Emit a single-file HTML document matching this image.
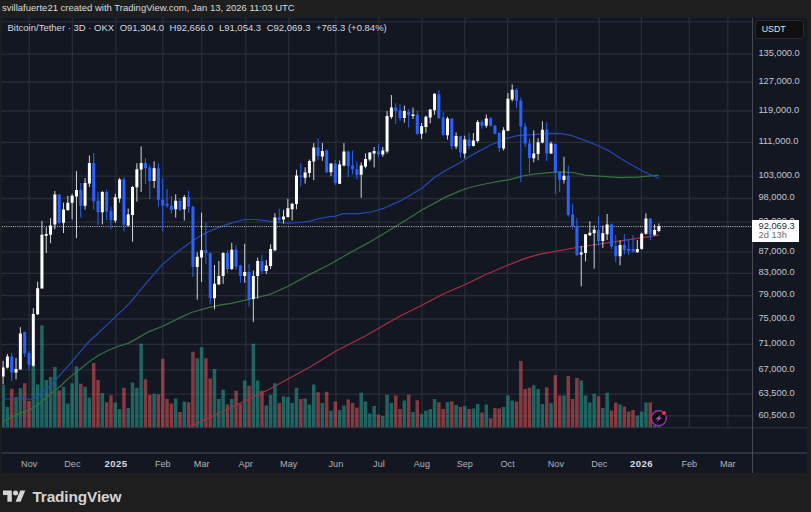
<!DOCTYPE html>
<html lang="en"><head><meta charset="utf-8"><title>Bitcoin/Tether 3D OKX — TradingView</title>
<style>
*{margin:0;padding:0;box-sizing:border-box}
html,body{width:811px;height:512px;overflow:hidden;background:#1e1e1e}
body{position:relative;font-family:"Liberation Sans",Arial,sans-serif;color:#d1d4dc;-webkit-font-smoothing:antialiased}
.t{position:absolute;white-space:nowrap;line-height:1}
.hdr{left:2px;top:3px;font-size:9.5px;color:#dcdcdc}
.ch{position:absolute;left:2px;top:16.5px}
.leg{left:7.5px;top:23.4px;font-size:9.5px;color:#d6d8de}
.leg span{margin-left:5.5px}
.pl{left:758.4px;font-size:9.3px;color:#c4c6cd}
.tl{font-size:9.1px;color:#b0b3bb;top:459.6px;transform:translateX(-50%)}
.tl.b{font-weight:bold;color:#d9dbe0;font-size:9.6px;letter-spacing:0.4px;top:459.2px;margin-left:0.2px}
.usdt{left:755px;top:19.8px;width:49.2px;height:19px;border-radius:3px;background:#0f0f0f;border:1px solid #272a34;font-size:8.8px;color:#e0e1e5;padding:4.6px 0 0 5.7px}
.pb{left:751.8px;top:220.4px;width:47.1px;height:21.7px;background:#fff;color:#2a2e39;font-size:9.3px;padding:1.3px 0 0 6.7px;line-height:9.4px}
.pb i{font-style:normal;color:#6a6d78;display:block}
.logo{position:absolute;left:3px;top:487.8px}
.brand{left:32.4px;top:488.6px;font-size:15.4px;font-weight:bold;color:#d4d4d4;letter-spacing:-0.13px}
</style></head><body>
<div class="t hdr">svillafuerte21 created with TradingView.com, Jan 13, 2026 11:03 UTC</div>

<svg class="ch" width="805.4" height="456.7" viewBox="2 16.5 805.4 456.7">
<rect x="2" y="16.5" width="805.4" height="456.7" fill="#131722"/>
<path d="M2 21.4H752M2 53.6H752M2 81.5H752M2 110.5H752M2 141.9H752M2 175.6H752M2 198.0H752M2 221.6H752M2 251.7H752M2 272.9H752M2 295.1H752M2 318.5H752M2 343.8H752M2 369.4H752M2 393.6H752M2 415.4H752M29.2 16.5V426.7M72.4 16.5V426.7M115.8 16.5V426.7M162.8 16.5V426.7M201.7 16.5V426.7M245.7 16.5V426.7M288.7 16.5V426.7M335.9 16.5V426.7M378.9 16.5V426.7M421.9 16.5V426.7M464.8 16.5V426.7M507.6 16.5V426.7M555.9 16.5V426.7M599.3 16.5V426.7M641.4 16.5V426.7M689.3 16.5V426.7M727.8 16.5V426.7" stroke="#292c3a" stroke-width="1.3" fill="none"/>
<path d="M2 427.2H807.4" stroke="#292c3a" stroke-width="1.3" fill="none"/>
<path d="M1.35 426.7v-42.4h3.5v42.4zM5.66 426.7v-20.3h3.5v20.3zM14.29 426.7v-30.2h3.5v30.2zM18.61 426.7v-38.9h3.5v38.9zM31.55 426.7v-61.1h3.5v61.1zM35.87 426.7v-42.8h3.5v42.8zM40.18 426.7v-102.0h3.5v102.0zM44.49 426.7v-47.3h3.5v47.3zM48.81 426.7v-50.3h3.5v50.3zM53.12 426.7v-60.2h3.5v60.2zM61.75 426.7v-40.4h3.5v40.4zM66.07 426.7v-23.7h3.5v23.7zM70.38 426.7v-44.0h3.5v44.0zM74.70 426.7v-60.6h3.5v60.6zM83.33 426.7v-40.4h3.5v40.4zM87.64 426.7v-29.6h3.5v29.6zM100.58 426.7v-34.1h3.5v34.1zM113.53 426.7v-24.7h3.5v24.7zM117.84 426.7v-18.3h3.5v18.3zM126.47 426.7v-19.1h3.5v19.1zM130.78 426.7v-44.8h3.5v44.8zM135.10 426.7v-39.4h3.5v39.4zM139.41 426.7v-83.4h3.5v83.4zM152.36 426.7v-33.5h3.5v33.5zM173.93 426.7v-28.6h3.5v28.6zM182.56 426.7v-25.6h3.5v25.6zM195.50 426.7v-69.0h3.5v69.0zM199.82 426.7v-79.9h3.5v79.9zM212.76 426.7v-58.2h3.5v58.2zM217.07 426.7v-28.2h3.5v28.2zM221.39 426.7v-37.5h3.5v37.5zM230.02 426.7v-28.2h3.5v28.2zM242.96 426.7v-46.7h3.5v46.7zM251.59 426.7v-83.4h3.5v83.4zM255.91 426.7v-46.7h3.5v46.7zM264.53 426.7v-21.7h3.5v21.7zM268.85 426.7v-32.1h3.5v32.1zM273.16 426.7v-44.0h3.5v44.0zM281.79 426.7v-31.0h3.5v31.0zM286.11 426.7v-30.2h3.5v30.2zM290.42 426.7v-24.3h3.5v24.3zM294.74 426.7v-39.4h3.5v39.4zM303.37 426.7v-28.6h3.5v28.6zM307.68 426.7v-22.7h3.5v22.7zM311.99 426.7v-42.8h3.5v42.8zM320.62 426.7v-24.3h3.5v24.3zM329.25 426.7v-16.4h3.5v16.4zM337.88 426.7v-17.2h3.5v17.2zM342.20 426.7v-21.7h3.5v21.7zM359.45 426.7v-34.5h3.5v34.5zM363.77 426.7v-25.6h3.5v25.6zM368.08 426.7v-13.8h3.5v13.8zM372.40 426.7v-21.1h3.5v21.1zM381.03 426.7v-11.2h3.5v11.2zM385.34 426.7v-32.5h3.5v32.5zM389.66 426.7v-24.3h3.5v24.3zM402.60 426.7v-26.6h3.5v26.6zM411.23 426.7v-15.2h3.5v15.2zM419.86 426.7v-13.2h3.5v13.2zM424.17 426.7v-16.4h3.5v16.4zM428.49 426.7v-18.3h3.5v18.3zM432.80 426.7v-28.2h3.5v28.2zM445.74 426.7v-25.0h3.5v25.0zM454.37 426.7v-22.3h3.5v22.3zM463.00 426.7v-21.1h3.5v21.1zM471.63 426.7v-18.7h3.5v18.7zM475.94 426.7v-23.1h3.5v23.1zM484.57 426.7v-22.7h3.5v22.7zM501.83 426.7v-20.3h3.5v20.3zM506.15 426.7v-31.6h3.5v31.6zM510.46 426.7v-26.6h3.5v26.6zM532.03 426.7v-42.0h3.5v42.0zM536.35 426.7v-38.1h3.5v38.1zM540.66 426.7v-23.1h3.5v23.1zM549.29 426.7v-24.3h3.5v24.3zM562.24 426.7v-31.6h3.5v31.6zM579.49 426.7v-46.7h3.5v46.7zM583.81 426.7v-31.6h3.5v31.6zM588.12 426.7v-24.7h3.5v24.7zM592.44 426.7v-33.5h3.5v33.5zM601.07 426.7v-19.1h3.5v19.1zM605.38 426.7v-34.5h3.5v34.5zM618.32 426.7v-22.7h3.5v22.7zM635.58 426.7v-11.8h3.5v11.8zM639.90 426.7v-15.8h3.5v15.8zM644.21 426.7v-24.7h3.5v24.7zM652.84 426.7v-2.0h3.5v2.0zM657.15 426.7v-1.0h3.5v1.0z" fill="rgb(44,178,160)" fill-opacity="0.5"/>
<path d="M9.98 426.7v-38.5h3.5v38.5zM22.92 426.7v-44.0h3.5v44.0zM27.24 426.7v-26.2h3.5v26.2zM57.44 426.7v-36.9h3.5v36.9zM79.01 426.7v-43.4h3.5v43.4zM91.95 426.7v-64.1h3.5v64.1zM96.27 426.7v-47.3h3.5v47.3zM104.90 426.7v-25.0h3.5v25.0zM109.21 426.7v-32.0h3.5v32.0zM122.16 426.7v-39.4h3.5v39.4zM143.73 426.7v-47.9h3.5v47.9zM148.04 426.7v-32.5h3.5v32.5zM156.67 426.7v-33.0h3.5v33.0zM160.99 426.7v-68.4h3.5v68.4zM165.30 426.7v-28.2h3.5v28.2zM169.62 426.7v-23.7h3.5v23.7zM178.24 426.7v-15.2h3.5v15.2zM186.87 426.7v-25.0h3.5v25.0zM191.19 426.7v-75.5h3.5v75.5zM204.13 426.7v-69.0h3.5v69.0zM208.45 426.7v-48.7h3.5v48.7zM225.70 426.7v-22.7h3.5v22.7zM234.33 426.7v-36.5h3.5v36.5zM238.65 426.7v-23.7h3.5v23.7zM247.28 426.7v-41.4h3.5v41.4zM260.22 426.7v-36.5h3.5v36.5zM277.48 426.7v-24.3h3.5v24.3zM299.05 426.7v-28.2h3.5v28.2zM316.31 426.7v-34.9h3.5v34.9zM324.94 426.7v-35.5h3.5v35.5zM333.57 426.7v-25.6h3.5v25.6zM346.51 426.7v-27.6h3.5v27.6zM350.82 426.7v-24.3h3.5v24.3zM355.14 426.7v-19.7h3.5v19.7zM376.71 426.7v-12.8h3.5v12.8zM393.97 426.7v-31.6h3.5v31.6zM398.28 426.7v-18.3h3.5v18.3zM406.91 426.7v-32.5h3.5v32.5zM415.54 426.7v-27.0h3.5v27.0zM437.11 426.7v-25.0h3.5v25.0zM441.43 426.7v-18.3h3.5v18.3zM450.06 426.7v-25.6h3.5v25.6zM458.69 426.7v-20.3h3.5v20.3zM467.32 426.7v-18.3h3.5v18.3zM480.26 426.7v-14.8h3.5v14.8zM488.89 426.7v-8.9h3.5v8.9zM493.20 426.7v-19.1h3.5v19.1zM497.52 426.7v-18.7h3.5v18.7zM514.78 426.7v-25.6h3.5v25.6zM519.09 426.7v-66.1h3.5v66.1zM523.40 426.7v-38.1h3.5v38.1zM527.72 426.7v-39.4h3.5v39.4zM544.98 426.7v-40.0h3.5v40.0zM553.61 426.7v-51.9h3.5v51.9zM557.92 426.7v-31.6h3.5v31.6zM566.55 426.7v-51.3h3.5v51.3zM570.86 426.7v-28.2h3.5v28.2zM575.18 426.7v-49.3h3.5v49.3zM596.75 426.7v-31.0h3.5v31.0zM609.69 426.7v-16.8h3.5v16.8zM614.01 426.7v-24.7h3.5v24.7zM622.64 426.7v-20.7h3.5v20.7zM626.95 426.7v-15.8h3.5v15.8zM631.27 426.7v-17.2h3.5v17.2zM648.52 426.7v-24.7h3.5v24.7z" fill="rgb(250,93,94)" fill-opacity="0.5"/>
<path d="M189.0 426.7 L228.9 408.0 L268.3 389.2 L310.0 366.6 L335.6 350.8 L366.2 335.0 L380.0 327.0 L399.7 315.8 L421.4 305.0 L443.1 293.5 L464.8 284.2 L486.5 273.8 L508.2 264.5 L526.0 257.6 L540.0 253.6 L579.4 246.5 L618.9 240.6 L658.9 234.7" stroke="#a92f43" stroke-width="1.2" fill="none" stroke-linejoin="round"/>
<path d="M2.0 421.4 L19.7 412.9 L31.6 408.4 L39.4 403.0 L49.3 394.2 L59.2 386.7 L69.0 377.4 L78.9 369.5 L88.8 361.6 L98.6 354.7 L108.5 349.8 L118.3 345.8 L128.2 342.9 L138.0 337.4 L149.0 331.1 L162.8 325.8 L178.6 317.9 L191.4 312.0 L208.2 307.1 L222.0 304.1 L230.0 303.2 L249.7 298.6 L269.4 294.1 L289.2 285.2 L308.9 274.4 L328.6 264.5 L348.3 253.3 L368.1 242.4 L382.8 233.8 L394.7 226.5 L408.5 218.0 L422.3 209.2 L434.1 202.9 L446.0 196.4 L460.0 190.4 L470.0 187.0 L480.0 184.5 L490.0 182.5 L500.0 180.7 L510.0 179.2 L521.8 175.6 L533.7 173.7 L549.4 172.1 L561.3 171.3 L573.1 172.1 L584.9 174.7 L598.8 175.6 L620.5 177.2 L638.2 176.6 L648.1 175.6 L658.9 174.7" stroke="#33743b" stroke-width="1.2" fill="none" stroke-linejoin="round"/>
<path d="M2.0 398.5 L31.6 398.5 L35.0 397.3 L39.4 394.2 L45.0 389.5 L51.3 384.3 L59.2 375.4 L69.0 364.6 L78.9 352.8 L88.8 341.2 L95.7 335.0 L109.6 321.9 L129.3 303.1 L149.0 279.4 L162.8 263.7 L178.6 250.4 L189.4 242.7 L201.3 234.8 L209.2 230.9 L219.0 226.9 L228.9 223.4 L236.8 221.0 L244.7 219.0 L256.5 219.0 L268.3 220.6 L278.2 222.0 L288.0 222.6 L299.9 222.0 L309.9 220.6 L319.7 218.0 L329.6 216.1 L335.5 215.7 L343.4 213.1 L359.2 213.1 L371.0 211.5 L382.8 208.2 L394.7 202.9 L402.6 199.3 L410.5 194.4 L422.3 187.5 L434.1 177.2 L446.0 169.7 L460.0 162.2 L469.7 155.9 L489.4 145.0 L505.2 138.5 L517.1 135.2 L532.8 134.2 L548.6 132.8 L560.5 133.2 L572.3 135.2 L588.1 141.1 L599.9 146.0 L610.0 150.9 L620.5 157.9 L632.3 164.8 L644.1 171.3 L658.9 178.0" stroke="#224ab6" stroke-width="1.2" fill="none" stroke-linejoin="round"/>
<path d="M2 226.1H752" stroke="#c9cbd1" stroke-width="1" stroke-dasharray="1 1.2" fill="none"/>
<path d="M3.10 360.3V383.7M7.41 353.5V368.0M16.04 357.4V378.9M20.36 326.7V369.1M33.30 307.7V366.2M37.62 281.2V314.7M41.93 220.3V288.1M46.24 226.9V252.6M50.56 217.6V242.7M54.87 190.4V228.8M63.50 202.2V232.6M67.82 195.3V210.0M72.13 193.3V219.0M76.45 170.6V237.7M85.08 177.5V209.1M89.39 154.9V186.4M102.33 190.4V223.9M115.28 193.3V222.3M119.59 177.5V202.2M128.22 208.1V225.9M132.53 185.4V241.2M136.85 162.8V201.2M141.16 146.0V191.4M154.11 160.8V187.4M175.68 193.8V217.1M184.31 194.4V220.0M197.25 251.8V299.1M201.57 212.1V281.4M214.51 264.6V309.0M218.82 260.6V284.3M223.14 251.8V283.3M231.77 242.3V269.5M244.71 243.3V282.3M253.34 270.1V321.4M257.66 257.1V298.1M266.28 259.7V273.5M270.60 243.8V268.5M274.91 212.7V250.8M283.54 209.2V223.0M287.86 198.3V217.1M292.17 202.3V220.0M296.49 169.3V208.8M305.12 166.8V183.0M309.43 159.0V176.7M313.74 142.6V179.7M322.37 142.6V160.3M331.00 162.9V175.7M339.63 160.0V183.6M343.95 142.6V165.9M361.20 161.9V197.3M365.52 153.0V167.8M369.83 151.7V160.9M374.15 146.5V166.9M382.78 146.5V156.4M387.09 110.6V153.0M391.41 94.5V118.5M404.35 105.1V122.1M412.98 107.1V118.5M421.61 122.5V138.6M425.92 115.0V132.3M430.24 108.7V122.9M434.55 92.9V114.2M447.49 116.2V139.2M456.12 132.0V148.6M464.75 135.2V157.8M473.38 132.6V146.0M477.69 119.4V142.1M486.32 114.1V127.3M503.58 126.7V150.0M507.90 92.4V130.6M512.21 83.9V101.0M533.78 129.8V161.8M538.10 137.7V159.8M542.41 120.8V143.0M551.04 141.1V153.5M563.99 156.3V183.1M581.24 245.5V285.9M585.56 233.7V260.9M589.87 220.9V235.6M594.19 224.9V268.2M602.82 225.2V247.5M607.13 213.5V239.6M620.07 239.8V264.8M637.33 239.6V252.4M641.65 232.0V249.4M645.96 212.8V234.1M654.59 223.9V235.5M658.90 222.9V231.8" stroke="#d4d6dc" stroke-width="1" fill="none"/>
<path d="M11.73 352.5V380.8M24.67 331.0V356.4M28.99 350.5V369.7M59.19 193.9V223.9M80.76 182.5V217.0M93.70 152.5V209.1M98.02 191.4V224.9M106.65 189.4V220.0M110.96 206.1V228.8M123.91 176.6V230.8M145.48 157.8V183.5M149.79 164.7V198.6M158.42 162.8V206.2M162.74 177.6V230.9M167.05 188.5V207.2M171.37 195.4V213.1M179.99 198.3V210.2M188.62 190.4V212.1M192.94 205.2V276.4M205.88 222.0V263.6M210.20 252.4V304.0M227.45 249.8V272.5M236.08 244.8V269.5M240.40 264.2V282.3M249.03 263.6V306.0M261.97 254.3V273.5M279.23 208.2V222.0M300.80 162.8V185.9M318.06 137.9V159.6M326.69 148.5V172.8M335.32 159.6V184.6M348.26 150.1V176.7M352.57 150.1V173.8M356.89 160.9V178.7M378.46 143.8V157.0M395.72 102.8V123.5M400.03 103.7V120.5M408.66 108.7V126.8M417.29 110.6V134.7M438.86 89.9V118.5M443.18 111.6V135.3M451.81 118.1V149.1M460.44 135.2V156.9M469.07 132.2V148.4M482.01 119.4V128.3M490.64 116.4V125.9M494.95 124.3V133.8M499.27 132.2V151.5M516.53 87.8V107.5M520.84 97.1V181.6M525.15 122.3V146.4M529.47 138.1V172.6M546.73 121.9V160.8M555.36 143.0V193.4M559.67 171.0V191.4M568.30 165.4V216.1M572.61 203.6V229.1M576.93 217.7V255.8M598.50 216.0V245.0M611.44 223.0V248.5M615.76 234.7V261.7M624.39 233.7V253.8M628.70 239.0V254.4M633.02 234.7V252.4M650.27 217.5V239.6" stroke="#2962ff" stroke-width="1" fill="none"/>
<path d="M1.60 367.1h3v8.8h-3zM5.91 356.0h3v11.1h-3zM14.54 368.5h3v3.5h-3zM18.86 333.0h3v36.1h-3zM31.80 313.6h3v51.6h-3zM36.12 287.7h3v26.1h-3zM40.43 234.3h3v53.8h-3zM44.74 233.4h3v1.9h-3zM49.06 224.9h3v9.3h-3zM53.37 193.9h3v30.0h-3zM62.00 209.1h3v13.2h-3zM66.32 202.2h3v7.5h-3zM70.63 195.3h3v6.9h-3zM74.95 189.4h3v6.5h-3zM83.58 182.5h3v22.7h-3zM87.89 162.4h3v20.5h-3zM100.83 191.4h3v20.3h-3zM113.78 196.7h3v23.3h-3zM118.09 178.9h3v19.0h-3zM126.72 214.0h3v10.9h-3zM131.03 186.4h3v28.0h-3zM135.35 168.7h3v18.1h-3zM139.66 162.4h3v6.7h-3zM152.61 167.7h3v12.8h-3zM174.18 200.3h3v8.5h-3zM182.81 196.4h3v12.4h-3zM195.75 256.3h3v10.3h-3zM200.07 249.8h3v7.3h-3zM213.01 283.3h3v14.4h-3zM217.32 275.4h3v8.5h-3zM221.64 252.4h3v23.0h-3zM230.27 249.2h3v19.3h-3zM243.21 271.5h3v3.9h-3zM251.84 275.4h3v23.1h-3zM256.16 260.6h3v14.8h-3zM264.78 265.0h3v5.5h-3zM269.10 248.5h3v17.1h-3zM273.41 217.1h3v32.7h-3zM282.04 216.1h3v2.9h-3zM286.36 207.8h3v8.7h-3zM290.67 203.3h3v5.5h-3zM294.99 175.0h3v28.6h-3zM303.62 172.0h3v5.2h-3zM307.93 160.4h3v12.0h-3zM312.24 147.1h3v13.8h-3zM320.87 150.5h3v5.5h-3zM329.50 162.9h3v8.9h-3zM338.13 163.9h3v19.3h-3zM342.45 151.1h3v13.8h-3zM359.70 164.9h3v9.3h-3zM364.02 158.4h3v7.5h-3zM368.33 152.1h3v6.9h-3zM372.65 150.5h3v2.5h-3zM381.28 150.1h3v3.9h-3zM385.59 115.6h3v35.5h-3zM389.91 107.1h3v9.5h-3zM402.85 110.6h3v6.9h-3zM411.48 113.9h3v1.6h-3zM420.11 125.4h3v7.9h-3zM424.42 116.2h3v10.2h-3zM428.74 109.1h3v7.9h-3zM433.05 93.3h3v16.4h-3zM445.99 118.1h3v16.6h-3zM454.62 135.5h3v10.4h-3zM463.25 139.1h3v13.8h-3zM471.88 140.1h3v5.5h-3zM476.19 121.4h3v19.1h-3zM484.82 118.0h3v7.3h-3zM502.08 129.8h3v18.2h-3zM506.40 98.3h3v31.9h-3zM510.71 89.2h3v9.9h-3zM532.28 152.9h3v4.9h-3zM536.60 141.7h3v11.8h-3zM540.91 129.2h3v12.9h-3zM549.54 143.0h3v9.9h-3zM562.49 175.2h3v4.4h-3zM579.74 252.0h3v2.0h-3zM584.06 233.7h3v18.7h-3zM588.37 232.3h3v2.4h-3zM592.69 229.3h3v3.4h-3zM601.32 232.7h3v7.9h-3zM605.63 223.9h3v9.8h-3zM618.57 244.4h3v11.4h-3zM635.83 248.5h3v3.3h-3zM640.15 233.3h3v15.2h-3zM644.46 217.9h3v15.4h-3zM653.09 229.5h3v4.7h-3zM657.40 225.8h3v4.6h-3z" fill="#ffffff"/>
<path d="M10.23 356.0h3v16.0h-3zM23.17 331.6h3v21.3h-3zM27.49 352.5h3v11.7h-3zM57.69 193.9h3v28.4h-3zM79.26 189.4h3v15.8h-3zM92.20 162.4h3v38.4h-3zM96.52 200.2h3v11.5h-3zM105.15 191.4h3v19.7h-3zM109.46 210.5h3v9.1h-3zM122.41 178.9h3v45.4h-3zM143.98 162.4h3v5.3h-3zM148.29 167.1h3v13.4h-3zM156.92 167.8h3v31.5h-3zM161.24 199.3h3v5.9h-3zM165.55 203.3h3v1.9h-3zM169.87 205.2h3v4.0h-3zM178.49 200.3h3v8.9h-3zM187.12 196.4h3v9.8h-3zM191.44 206.2h3v60.0h-3zM204.38 249.8h3v3.0h-3zM208.70 252.4h3v45.3h-3zM225.95 252.4h3v16.1h-3zM234.58 249.2h3v17.0h-3zM238.90 265.0h3v10.4h-3zM247.53 271.5h3v27.6h-3zM260.47 260.6h3v9.9h-3zM277.73 217.1h3v2.3h-3zM299.30 175.0h3v1.6h-3zM316.56 147.1h3v8.5h-3zM325.19 150.1h3v21.7h-3zM333.82 162.9h3v19.7h-3zM346.76 151.1h3v14.4h-3zM351.07 164.9h3v3.9h-3zM355.39 168.8h3v5.4h-3zM376.96 151.1h3v2.9h-3zM394.22 107.1h3v3.5h-3zM398.53 109.7h3v7.8h-3zM407.16 111.6h3v3.0h-3zM415.79 114.2h3v19.1h-3zM437.36 93.9h3v23.6h-3zM441.68 117.0h3v17.3h-3zM450.31 118.1h3v27.3h-3zM458.94 135.7h3v16.2h-3zM467.57 139.1h3v6.5h-3zM480.51 121.4h3v3.9h-3zM489.14 118.0h3v7.3h-3zM493.45 125.3h3v7.9h-3zM497.77 132.2h3v15.4h-3zM515.03 89.2h3v11.4h-3zM519.34 100.2h3v25.7h-3zM523.65 125.9h3v17.1h-3zM527.97 143.0h3v14.4h-3zM545.23 129.2h3v23.7h-3zM553.86 143.6h3v28.4h-3zM558.17 172.0h3v7.2h-3zM566.80 175.2h3v39.3h-3zM571.11 214.0h3v11.8h-3zM575.43 225.6h3v28.8h-3zM597.00 229.8h3v10.8h-3zM609.94 223.9h3v22.1h-3zM614.26 245.5h3v10.3h-3zM622.89 244.6h3v4.8h-3zM627.20 248.5h3v1.9h-3zM631.52 248.5h3v2.5h-3zM648.77 217.9h3v16.1h-3z" fill="#2962ff"/>
<path d="M752.5 16.5V473.2M2 452.5H807.4" stroke="#4a4d58" stroke-width="1" fill="none"/>
<path d="M2 17.0H807.4" stroke="#1b1f2c" stroke-width="1" fill="none"/>
<g transform="translate(658.8 417.8)"><circle r="7.5" fill="#0e0c12" stroke="#9533ae" stroke-width="1.5"/><path d="M2.1 -3.9L-3.5 0.9H-0.5L-2.5 3.9L3.4 -0.9H0.6Z" fill="#b04bd0"/><circle cx="5.2" cy="-5.3" r="2.6" fill="#131722"/><circle cx="5.2" cy="-5.3" r="2" fill="#f23645"/></g>
</svg>
<div class="t leg">Bitcoin/Tether · 3D · OKX<span>O91,304.0</span><span>H92,666.0</span><span>L91,054.3</span><span>C92,069.3</span><span>+765.3 (+0.84%)</span></div>
<div class="t usdt">USDT</div>
<div class="t pl" style="top:48.8px">135,000.0</div>
<div class="t pl" style="top:76.7px">127,000.0</div>
<div class="t pl" style="top:105.7px">119,000.0</div>
<div class="t pl" style="top:137.1px">111,000.0</div>
<div class="t pl" style="top:170.8px">103,000.0</div>
<div class="t pl" style="top:193.2px">98,000.0</div>
<div class="t pl" style="top:216.8px">93,000.0</div>
<div class="t pl" style="top:246.9px">87,000.0</div>
<div class="t pl" style="top:268.1px">83,000.0</div>
<div class="t pl" style="top:290.3px">79,000.0</div>
<div class="t pl" style="top:313.7px">75,000.0</div>
<div class="t pl" style="top:339.0px">71,000.0</div>
<div class="t pl" style="top:364.6px">67,000.0</div>
<div class="t pl" style="top:388.8px">63,500.0</div>
<div class="t pl" style="top:410.6px">60,500.0</div>
<div class="t pb">92,069.3<i>2d 13h</i></div>
<div class="t tl" style="left:29.2px">Nov</div>
<div class="t tl" style="left:72.4px">Dec</div>
<div class="t tl b" style="left:115.8px">2025</div>
<div class="t tl" style="left:162.8px">Feb</div>
<div class="t tl" style="left:201.7px">Mar</div>
<div class="t tl" style="left:245.7px">Apr</div>
<div class="t tl" style="left:288.7px">May</div>
<div class="t tl" style="left:335.9px">Jun</div>
<div class="t tl" style="left:378.9px">Jul</div>
<div class="t tl" style="left:421.9px">Aug</div>
<div class="t tl" style="left:464.8px">Sep</div>
<div class="t tl" style="left:507.6px">Oct</div>
<div class="t tl" style="left:555.9px">Nov</div>
<div class="t tl" style="left:599.3px">Dec</div>
<div class="t tl b" style="left:641.4px">2026</div>
<div class="t tl" style="left:689.3px">Feb</div>
<div class="t tl" style="left:727.8px">Mar</div>
<svg class="logo" width="22.6" height="17.6" viewBox="0 0 36 28"><path d="M14 22H7V11H0V4h14v18zM28 22h-8l7.5-18h8L28 22z" fill="#d4d4d4"/><circle cx="20" cy="8" r="4" fill="#d4d4d4"/></svg>
<div class="t brand">TradingView</div>
</body></html>
